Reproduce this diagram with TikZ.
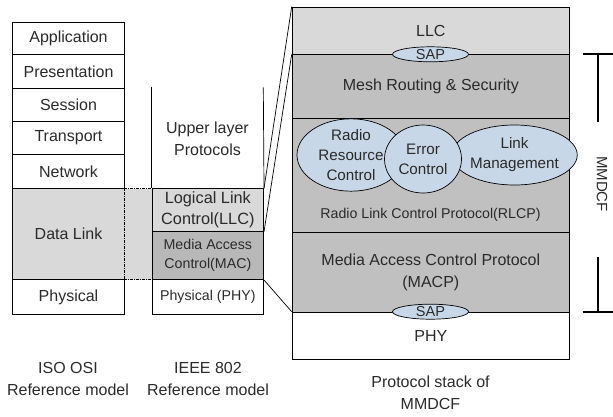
\documentclass[tikz,border=0pt]{standalone}
\usepackage{fontspec}
\setmainfont{Liberation Sans}
\usetikzlibrary{shapes.geometric}
\definecolor{lgray}{HTML}{D9D9D9}
\definecolor{mgray}{HTML}{C0C0C0}
\definecolor{dgray}{HTML}{B8B8B8}
\definecolor{eblue}{HTML}{C8D7E8}
\definecolor{tgray}{HTML}{2A2A2A}
\tikzset{
  lay/.style={draw=black, line width=0.7pt, rectangle, inner sep=0pt, anchor=north west, align=center, text=tgray, font=\fontsize{16}{21}\selectfont},
  small/.style={font=\fontsize{14.2}{19}\selectfont},
  ell/.style={draw=black, line width=0.7pt, ellipse, fill=eblue, inner sep=0pt, align=center, text=tgray, font=\fontsize{15.2}{20}\selectfont},
  sap/.style={draw=black, line width=0.7pt, ellipse, fill=eblue, inner sep=0pt, minimum width=76pt, minimum height=15pt, text=tgray, font=\fontsize{14.5}{14}\selectfont},
  lbl/.style={align=center, text=tgray, inner sep=0pt, font=\fontsize{16}{22}\selectfont},
  conn/.style={line width=0.7pt},
  brk/.style={line width=2pt},
}
\begin{document}
\begin{tikzpicture}[x=1pt,y=-1pt]
\useasboundingbox (0,0) rectangle (613,416);
% OSI column
\node[lay, minimum width=111.7pt, minimum height=32pt] (app) at (12.3,22.3) {Application};
\node[lay, minimum width=111.7pt, minimum height=34pt] (pres) at (12.3,54.3) {Presentation};
\node[lay, minimum width=111.7pt, minimum height=32.7pt] (sess) at (12.3,88.3) {Session};
\node[lay, minimum width=111.7pt, minimum height=33.3pt] (trans) at (12.3,121) {Transport};
\node[lay, minimum width=111.7pt, minimum height=34pt] (net) at (12.3,154.3) {Network};
\node[lay, fill=lgray, minimum width=111.7pt, minimum height=91pt] (dl) at (12.3,188.3) {Data Link};
\node[lay, minimum width=111.7pt, minimum height=34.7pt] (phy) at (12.3,279.3) {Physical};
% dashed bridge
\node[lay, fill=lgray, dash pattern=on 3pt off 1pt on 1pt off 1pt, minimum width=27.7pt, minimum height=91pt] (bridge) at (124,188.3) {};
% IEEE column
\node[lay, fill=lgray, minimum width=111.6pt, minimum height=42.7pt, font=\fontsize{16.3}{21}\selectfont] (llc) at (151.7,188.3) {Logical Link\\Control(LLC)};
\node[lay, fill=dgray, small, minimum width=111.6pt, minimum height=48.3pt] (mac) at (151.7,231) {Media Access\\Control(MAC)};
\node[lay, small, minimum width=111.6pt, minimum height=34.7pt] (iphy) at (151.7,279.3) {Physical (PHY)};
\coordinate (ul) at (151.7,87.3);
\coordinate (ur) at (263.3,87.3);
\draw[conn] (ul) -- (llc.north west);
\draw[conn] (ur) -- (llc.north east);
\node[lbl] (upper) at (207.5,139) {Upper layer\\Protocols};
% MMDCF stack
\node[lay, fill=lgray, minimum width=277.6pt, minimum height=47.6pt] (sllc) at (291.7,6.7) {LLC};
\node[lay, fill=mgray, minimum width=277.6pt, minimum height=64pt] (mesh) at (291.7,54.3) {Mesh Routing \& Security};
\node[lay, fill=mgray, minimum width=277.6pt, minimum height=113.4pt] (rlcp) at (291.7,118.3) {};
\node[lay, fill=mgray, minimum width=277.6pt, minimum height=80pt, font=\fontsize{16}{22}\selectfont] (macp) at (291.7,231.7) {Media Access Control Protocol\\(MACP)};
\node[lay, minimum width=277.6pt, minimum height=47.6pt] (sphy) at (291.7,311.7) {\raisebox{-5pt}{PHY}};
\node[lbl, font=\fontsize{14.2}{19}\selectfont] (rlcplbl) at (430.5,215) {Radio Link Control Protocol(RLCP)};
% ellipses
\node[ell, minimum width=108pt, minimum height=64pt] (rrc) at (351,155) {Radio\\Resource\\Control};
\node[ell, minimum width=106pt, minimum height=60pt] (lm) at (514.5,155) {Link\\Management};
\node[ell, minimum width=77pt, minimum height=68pt] (ec) at (423,159) {Error\\Control};
% SAPs
\node[sap] (sap1) at (430.5,54.3) {SAP};
\node[sap] (sap2) at (430.5,311.7) {SAP};
% zoom connectors
\draw[conn] (llc.north east) -- (sllc.north west);
\draw[conn] (llc.south east) -- (mesh.north west);
\draw[conn] (mac.south east) -- (sphy.north west);
% bracket
\coordinate (bt1) at (582.7,54.3);
\coordinate (bt2) at (613,54.3);
\coordinate (btm) at (597.5,54.3);
\coordinate (btv) at (597.5,121.5);
\coordinate (bb1) at (582.7,311.7);
\coordinate (bb2) at (613,311.7);
\coordinate (bbm) at (597.5,311.7);
\coordinate (bbv) at (597.5,257);
\draw[brk] (bt1) -- (bt2);
\draw[brk] (btm) -- (btv);
\draw[brk] (bb1) -- (bb2);
\draw[brk] (bbm) -- (bbv);
\node[lbl, rotate=-90, font=\fontsize{15}{18}\selectfont] (mmdcf) at (602,184) {MMDCF};
% captions
\node[lbl] (cap1) at (68,379) {ISO OSI\\Reference model};
\node[lbl] (cap2) at (208,379) {IEEE 802\\Reference model};
\node[lbl] (cap3) at (430.5,393) {Protocol stack of\\MMDCF};
\end{tikzpicture}
\end{document}
